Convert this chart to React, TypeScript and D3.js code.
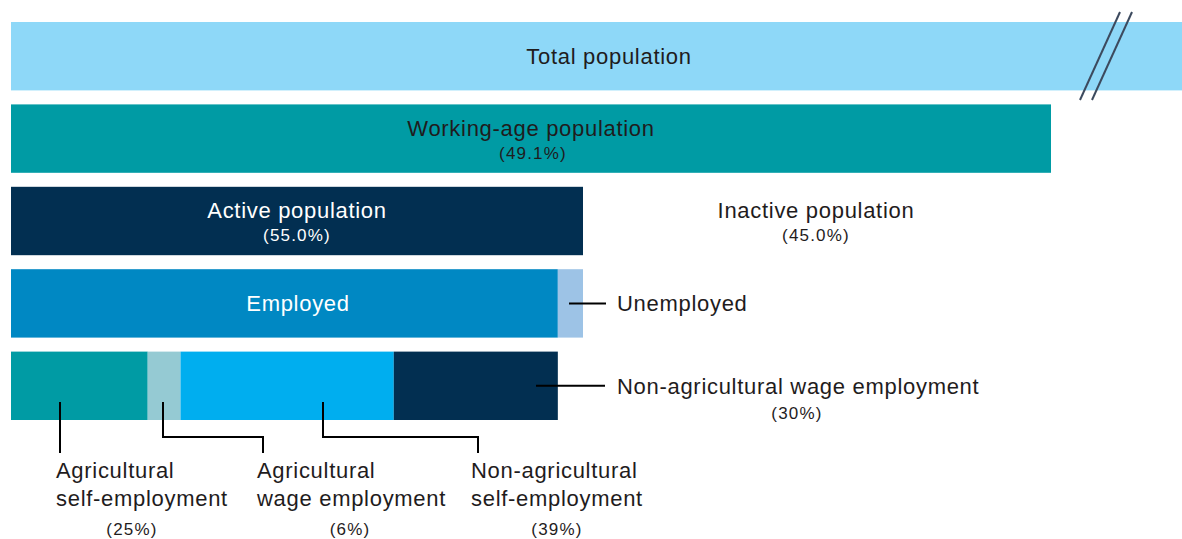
import React from "react";
import * as d3 from "d3";

const W = 1182;
const H = 539;

// Share of working-age population (%)
const activeShare = 55.0;
const inactiveShare = 45.0;
const workingAgeShare = 49.1;
// Unemployed share of active population (%), estimated
const unemployedShare = 4.4;
// Composition of employment (%)
const employmentCategories = [
  "Agricultural self-employment",
  "Agricultural wage employment",
  "Non-agricultural self-employment",
  "Non-agricultural wage employment",
];
const employmentShares = [25, 6, 39, 30];
const employmentColors = ["#009BA4", "#95CAD3", "#00AEEF", "#022F51"];

const FONT = "'Liberation Sans', Arial, sans-serif";
const TXT = "#1f1c1d";

export default function App() {
  const x = d3.scaleLinear().domain([0, 100]).range([11, 1051]);
  const rows = ["total", "working", "active", "employed", "composition"];
  const y = d3.scaleBand().domain(rows).range([22, 420]).paddingInner(0.17).paddingOuter(0);
  const bh = y.bandwidth();

  const activeEnd = x(activeShare);
  const employedEnd = x(activeShare * (1 - unemployedShare / 100));
  const emplScale = d3.scaleLinear().domain([0, 100]).range([x(0), employedEnd]);
  const stacked = d3.cumsum(employmentShares);
  const segs = employmentShares.map((v, i) => ({
    name: employmentCategories[i],
    v,
    x0: emplScale(stacked[i] - v),
    x1: emplScale(stacked[i]),
    color: employmentColors[i],
  }));

  const yT = y("total")!;
  const yW = y("working")!;
  const yA = y("active")!;
  const yE = y("employed")!;
  const yC = y("composition")!;
  const cy = (v: number) => v + bh / 2;

  const big = 22;
  const bigLS = 0.7;
  const small = 17;
  const smallLS = 1.2;

  const leadY = yC + bh - 18;
  const elbowY = yC + bh + 17;
  const endY = yC + bh + 33;
  const labY = 453;

  const B = (props: any) => (
    <text fontSize={big} letterSpacing={bigLS} fill={TXT} {...props} />
  );
  const S = (props: any) => (
    <text fontSize={small} letterSpacing={smallLS} fill={TXT} textAnchor="middle" {...props} />
  );

  return (
    <svg width={W} height={H} style={{ position: "absolute", left: 0, top: 0 }} fontFamily={FONT}>
      {/* Total population */}
      <rect x={x(0)} y={yT} width={W - x(0)} height={bh} fill="#8ED8F8" />
      <B x={609} y={cy(yT) + 8} textAnchor="middle">Total population</B>
      <line x1={1080} y1={100} x2={1120} y2={12} stroke="#3c4a5e" strokeWidth={2} />
      <line x1={1092} y1={100} x2={1132} y2={12} stroke="#3c4a5e" strokeWidth={2} />

      {/* Working-age */}
      <rect x={x(0)} y={yW} width={x(100) - x(0)} height={bh} fill="#009BA4" />
      <B x={531} y={cy(yW) - 3} textAnchor="middle">Working-age population</B>
      <S x={533} y={cy(yW) + 20}>({workingAgeShare.toFixed(1)}%)</S>

      {/* Active / Inactive */}
      <rect x={x(0)} y={yA} width={activeEnd - x(0)} height={bh} fill="#022F51" />
      <B x={(x(0) + activeEnd) / 2} y={cy(yA) - 3} textAnchor="middle" fill="#fff">Active population</B>
      <S x={(x(0) + activeEnd) / 2} y={cy(yA) + 20} fill="#fff">({activeShare.toFixed(1)}%)</S>
      <B x={816} y={cy(yA) - 3} textAnchor="middle">Inactive population</B>
      <S x={816} y={cy(yA) + 20}>({inactiveShare.toFixed(1)}%)</S>

      {/* Employed / Unemployed */}
      <rect x={x(0)} y={yE} width={employedEnd - x(0)} height={bh} fill="#0088C3" />
      <rect x={employedEnd} y={yE} width={activeEnd - employedEnd} height={bh} fill="#9DC3E6" />
      <B x={298} y={cy(yE) + 8} textAnchor="middle" fill="#fff">Employed</B>
      <line x1={569} x2={606} y1={cy(yE)} y2={cy(yE)} stroke="#000" strokeWidth={2} />
      <B x={617} y={cy(yE) + 8}>Unemployed</B>

      {/* Employment composition */}
      {segs.map((s) => (
        <rect key={s.name} x={s.x0} y={yC} width={s.x1 - s.x0} height={bh} fill={s.color} />
      ))}

      {/* leaders */}
      <g stroke="#000" strokeWidth={2} fill="none">
        <line x1={60} x2={60} y1={leadY} y2={endY} />
        <polyline points={`163,${leadY} 163,${elbowY} 263,${elbowY} 263,${endY}`} />
        <polyline points={`323,${leadY} 323,${elbowY} 478,${elbowY} 478,${endY}`} />
        <line x1={536} x2={605} y1={cy(yC)} y2={cy(yC)} />
      </g>

      <B x={617} y={cy(yC) + 8}>{employmentCategories[3]}</B>
      <S x={797} y={cy(yC) + 33}>({employmentShares[3]}%)</S>

      <B x={56} y={labY + 25}>Agricultural</B>
      <B x={56} y={labY + 53}>self-employment</B>
      <S x={132} y={labY + 82}>({employmentShares[0]}%)</S>

      <B x={257} y={labY + 25}>Agricultural</B>
      <B x={257} y={labY + 53}>wage employment</B>
      <S x={350} y={labY + 82}>({employmentShares[1]}%)</S>

      <B x={471} y={labY + 25}>Non-agricultural</B>
      <B x={471} y={labY + 53}>self-employment</B>
      <S x={557} y={labY + 82}>({employmentShares[2]}%)</S>
    </svg>
  );
}
